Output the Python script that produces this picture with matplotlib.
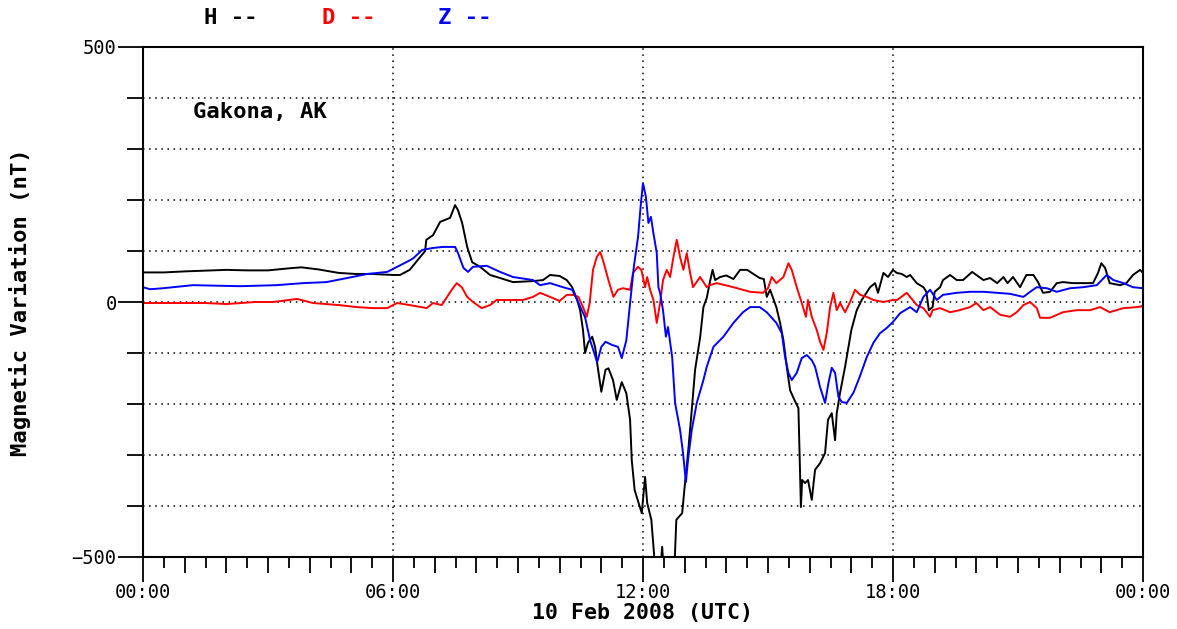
import numpy as np
import matplotlib
matplotlib.use("Agg")
import matplotlib.pyplot as plt
from matplotlib.ticker import FixedLocator, NullFormatter

# H component (black)
h_time = [0.0, 0.5, 1.0, 2.0, 2.5, 3.0, 3.5, 3.8, 4.2, 4.7, 5.1, 5.5, 6.0, 6.17, 6.4, 6.65,
          6.77, 6.8, 6.96, 7.13, 7.37, 7.49, 7.56, 7.66, 7.78, 7.9, 8.09, 8.33, 8.57, 8.88,
          9.36, 9.6, 9.77, 10.0, 10.17, 10.3, 10.42, 10.49, 10.56, 10.61, 10.68, 10.78, 10.85,
          10.9, 11.0, 11.1, 11.17, 11.28, 11.37, 11.49, 11.6, 11.69, 11.73, 11.8, 11.97, 12.05,
          12.1, 12.2, 12.3, 12.4, 12.46, 12.5, 12.75, 12.8, 12.94, 13.0, 13.08, 13.17, 13.25,
          13.37, 13.45, 13.53, 13.6, 13.67, 13.73, 13.85, 14.0, 14.17, 14.33, 14.5, 14.65, 14.8,
          14.9, 14.97, 15.05, 15.12, 15.2, 15.29, 15.37, 15.45, 15.53, 15.65, 15.73, 15.79,
          15.82, 15.89, 15.96, 16.05, 16.13, 16.25, 16.37, 16.44, 16.53, 16.61, 16.65, 16.73,
          16.85, 16.93, 17.0, 17.13, 17.25, 17.33, 17.45, 17.57, 17.64, 17.77, 17.88, 18.0,
          18.09, 18.21, 18.33, 18.41, 18.57, 18.73, 18.8, 18.86, 18.95, 19.0, 19.13, 19.2,
          19.37, 19.53, 19.68, 19.9, 20.0, 20.17, 20.33, 20.5, 20.65, 20.75, 20.88, 21.05,
          21.2, 21.37, 21.48, 21.6, 21.77, 21.93, 22.08, 22.32, 22.56, 22.8, 22.92, 23.0,
          23.09, 23.2, 23.45, 23.6, 23.76, 23.93, 24.0]
h_val = [58, 58, 60, 63, 62, 62, 66, 68, 64, 57, 55, 55, 53, 53, 63, 88,
         100, 122, 131, 157, 165, 190, 180, 155, 108, 78, 69, 53, 47, 39,
         41, 43, 53, 51, 43, 29, 4, -16, -55, -100, -80, -68, -88,
         -120, -176, -133, -130, -153, -192, -157, -179, -231, -310, -369, -414, -343,
         -394, -427, -530, -540, -480, -530, -530, -427, -414, -362, -297, -212, -133,
         -70, -10, 8, 37, 63, 43, 49, 52, 45, 63, 63, 55, 47,
         45, 10, 24, 8, -10, -41, -75, -127, -173, -195, -208, -402,
         -349, -355, -349, -388, -329, -316, -296, -231, -218, -271, -218, -178,
         -127, -88, -55, -16, 4, 14, 29, 37, 18, 57, 49, 63,
         57, 55, 49, 53, 37, 29, 20, -16, -10, 20, 29, 43,
         53, 43, 43, 59, 53, 43, 47, 37, 49, 37, 49, 29,
         53, 53, 39, 18, 20, 37, 39, 37, 37, 37, 57, 76,
         67, 37, 33, 37, 53, 63, 57]

# D component (red)
d_time = [0.0, 1.5, 2.0, 2.7, 3.12, 3.5, 3.7, 4.08, 4.7, 5.13, 5.52, 5.86, 6.1, 6.4, 6.81,
          6.96, 7.17, 7.25, 7.41, 7.53, 7.65, 7.78, 7.92, 8.13, 8.33, 8.49, 8.8, 9.12, 9.36,
          9.53, 9.77, 10.0, 10.17, 10.32, 10.45, 10.56, 10.65, 10.72, 10.8, 10.89, 10.97,
          11.04, 11.17, 11.29, 11.4, 11.52, 11.69, 11.76, 11.88, 11.96, 12.05, 12.1, 12.17,
          12.25, 12.33, 12.41, 12.48, 12.57, 12.65, 12.73, 12.81, 12.89, 12.97, 13.05, 13.13,
          13.2, 13.37, 13.53, 13.6, 13.77, 14.17, 14.57, 14.88, 15.0, 15.09, 15.2, 15.37,
          15.49, 15.57, 15.69, 15.81, 15.91, 15.96, 16.05, 16.17, 16.25, 16.33, 16.41, 16.49,
          16.57, 16.65, 16.73, 16.85, 16.97, 17.09, 17.21, 17.37, 17.53, 17.77, 18.0, 18.1,
          18.33, 18.41, 18.57, 18.73, 18.89, 18.95, 19.13, 19.37, 19.6, 19.85, 20.0, 20.17,
          20.33, 20.57, 20.81, 20.97, 21.13, 21.29, 21.45, 21.53, 21.77, 22.08, 22.41, 22.73,
          22.97, 23.2, 23.53, 23.85, 24.0]
d_val = [-2, -2, -4, 0, 0, 4, 6, -2, -6, -10, -12, -12, -2, -6, -12,
         -2, -6, 4, 24, 37, 29, 10, 0, -12, -6, 4, 4, 4, 10,
         18, 10, 2, 14, 14, 10, -10, -29, -2, 63, 88, 98,
         82, 43, 10, 24, 27, 24, 57, 69, 63, 29, 49, 24,
         4, -41, -2, 43, 63, 49, 88, 122, 88, 63, 96, 57,
         29, 49, 29, 33, 37, 29, 20, 18, 27, 49, 37, 49,
         76, 63, 29, -2, -29, 4, -29, -55, -78, -94, -61, -10,
         18, -16, -2, -20, 0, 24, 14, 10, 4, 0, 4, 4,
         18, 10, -6, -12, -29, -16, -12, -20, -16, -10, -2, -16,
         -10, -25, -29, -20, -6, 0, -12, -31, -31, -20, -16, -16,
         -10, -20, -12, -10, -8]

# Z component (blue)
z_time = [0.0, 0.17, 0.48, 1.2, 2.33, 3.2, 3.84, 4.4, 4.9, 5.38, 5.86, 6.1, 6.41, 6.49, 6.7,
          6.96, 7.2, 7.49, 7.56, 7.69, 7.8, 7.92, 8.25, 8.57, 8.88, 9.36, 9.53, 9.77, 10.08,
          10.3, 10.42, 10.53, 10.61, 10.73, 10.9, 11.0, 11.1, 11.25, 11.4, 11.49, 11.6, 11.69,
          11.78, 11.88, 11.95, 12.0, 12.07, 12.13, 12.19, 12.25, 12.33, 12.37, 12.41, 12.48,
          12.55, 12.6, 12.7, 12.77, 12.89, 12.96, 13.03, 13.08, 13.17, 13.29, 13.45, 13.53,
          13.69, 13.93, 14.17, 14.4, 14.57, 14.8, 14.97, 15.2, 15.33, 15.41, 15.49, 15.57,
          15.69, 15.81, 15.93, 16.05, 16.13, 16.25, 16.37, 16.45, 16.53, 16.61, 16.69, 16.77,
          16.89, 17.05, 17.2, 17.37, 17.53, 17.69, 17.85, 18.0, 18.17, 18.41, 18.57, 18.73,
          18.89, 19.05, 19.2, 19.53, 19.85, 20.17, 20.5, 20.81, 21.13, 21.29, 21.45, 21.69,
          21.93, 22.25, 22.56, 22.89, 23.13, 23.29, 23.53, 23.76, 24.0]
z_val = [29, 25, 27, 33, 31, 33, 37, 39, 47, 55, 59, 69, 82, 86, 102,
         106, 108, 108, 96, 67, 59, 69, 71, 59, 49, 43, 33, 37, 29,
         24, 4, -16, -30, -75, -118, -88, -78, -84, -88, -110, -75, -2,
         69, 127, 194, 233, 206, 155, 167, 135, 96, 29, 18, -16,
         -68, -49, -108, -198, -251, -296, -353, -310, -251, -198, -153, -127,
         -88, -68, -41, -20, -10, -10, -20, -41, -61, -108, -139, -153,
         -139, -110, -104, -114, -127, -167, -198, -159, -129, -139, -186, -196,
         -198, -178, -147, -108, -80, -61, -51, -39, -22, -10, -20, 10,
         24, 4, 14, 18, 20, 20, 18, 16, 10, 20, 29, 27,
         20, 27, 29, 33, 53, 43, 37, 29, 27]

x_labels = ["00:00", "06:00", "12:00", "18:00", "00:00"]
station = "Gakona, AK"

MONO = "DejaVu Sans Mono"
PX = 0.72  # points per pixel at dpi 100


def main():
    fig = plt.figure(figsize=(11.77, 6.29), dpi=100)
    ax = fig.add_axes([143 / 1177, 72 / 629, 1000 / 1177, 510 / 629])

    ax.plot(h_time, h_val, color="black", lw=1.4)
    ax.plot(d_time, d_val, color="#ff0000", lw=1.4)
    ax.plot(z_time, z_val, color="#0000ff", lw=1.4)

    ax.set_xlim(0, 24)
    ax.set_ylim(-500, 500)

    for s in ax.spines.values():
        s.set_linewidth(1.5)

    # x ticks
    ax.xaxis.set_major_locator(FixedLocator([0, 6, 12, 18, 24]))
    ax.set_xticklabels(x_labels)
    ax.xaxis.set_minor_locator(FixedLocator([h for h in range(25) if h % 6]))
    ax.tick_params(axis="x", which="major", direction="out", length=25 * PX, width=1.3,
                   pad=1, labelsize=13.5)
    ax.tick_params(axis="x", which="minor", direction="out", length=16 * PX, width=1.3)
    sec = ax.secondary_xaxis("bottom")
    sec.set_xticks(np.arange(0.5, 24, 1.0))
    sec.xaxis.set_major_formatter(NullFormatter())
    sec.tick_params(direction="out", length=11 * PX, width=1.3)
    sec.spines["bottom"].set_visible(False)

    # y ticks
    ax.yaxis.set_major_locator(FixedLocator([-500, 0, 500]))
    ax.yaxis.set_minor_locator(FixedLocator(range(-400, 500, 100)))
    ax.tick_params(axis="y", which="major", direction="out", length=25 * PX, width=1.3,
                   pad=1, labelsize=13.5)
    ax.tick_params(axis="y", which="minor", direction="out", length=16 * PX, width=1.3)
    for lab in ax.get_xticklabels() + ax.get_yticklabels():
        lab.set_family(MONO)

    ax.grid(axis="x", which="major", color="black", linestyle=(0, (1, 3)), lw=1.1)
    ax.grid(axis="y", which="both", color="black", linestyle=(0, (1, 3)), lw=1.1)

    # labels
    fig.text(20 / 1177, 1 - 302 / 629, "Magnetic Variation (nT)", rotation=90,
             ha="center", va="center", family=MONO, weight="bold", fontsize=16)
    fig.text(643 / 1177, 1 - 619 / 629, "10 Feb 2008 (UTC)", ha="center", va="baseline",
             family=MONO, weight="bold", fontsize=15.5)
    fig.text(193 / 1177, 1 - 112 / 629, station, ha="left", va="center",
             family=MONO, weight="bold", fontsize=16)

    # legend row
    for x0, name, col in [(204, "H --", "black"), (322, "D --", "#ff0000"), (438, "Z --", "#0000ff")]:
        fig.text(x0 / 1177, 1 - 18 / 629, name, ha="left", va="center", color=col,
                 family=MONO, weight="bold", fontsize=16)

    fig.savefig("out.png", dpi=100)


if __name__ == '__main__':
    main()
